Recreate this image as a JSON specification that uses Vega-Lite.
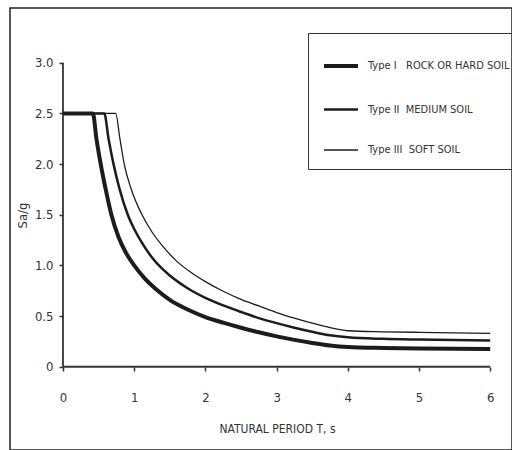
{
  "$schema": "https://vega.github.io/schema/vega-lite/v6.json",
  "width": 502,
  "height": 442,
  "autosize": {"type": "none"},
  "padding": {"left": 10, "top": 8, "right": 0, "bottom": 0},
  "background": "white",
  "config": {
    "view": {"stroke": "#222", "strokeWidth": 1.5},
    "font": "DejaVu Sans Condensed, Liberation Sans Narrow, Liberation Sans, sans-serif"
  },
  "datasets": {
    "axes": [
      {"t": 0, "s": 0, "t2": 6, "s2": 0},
      {"t": 0, "s": 0, "t2": 0, "s2": 3}
    ],
    "curves": [
      {"soil": "Type I", "period": 0, "sa": 2.5},
      {"soil": "Type I", "period": 0.42, "sa": 2.5},
      {"soil": "Type I", "period": 0.47, "sa": 2.25},
      {"soil": "Type I", "period": 0.53, "sa": 2.0},
      {"soil": "Type I", "period": 0.6, "sa": 1.75},
      {"soil": "Type I", "period": 0.68, "sa": 1.5},
      {"soil": "Type I", "period": 0.78, "sa": 1.28},
      {"soil": "Type I", "period": 0.88, "sa": 1.13},
      {"soil": "Type I", "period": 1.0, "sa": 1.0},
      {"soil": "Type I", "period": 1.15, "sa": 0.87},
      {"soil": "Type I", "period": 1.3, "sa": 0.77},
      {"soil": "Type I", "period": 1.5, "sa": 0.66},
      {"soil": "Type I", "period": 1.75, "sa": 0.565},
      {"soil": "Type I", "period": 2.0, "sa": 0.49},
      {"soil": "Type I", "period": 2.25, "sa": 0.435},
      {"soil": "Type I", "period": 2.5, "sa": 0.385},
      {"soil": "Type I", "period": 2.75, "sa": 0.34},
      {"soil": "Type I", "period": 3.0, "sa": 0.3},
      {"soil": "Type I", "period": 3.25, "sa": 0.265},
      {"soil": "Type I", "period": 3.5, "sa": 0.235},
      {"soil": "Type I", "period": 3.75, "sa": 0.21},
      {"soil": "Type I", "period": 4.0, "sa": 0.195},
      {"soil": "Type I", "period": 4.5, "sa": 0.185},
      {"soil": "Type I", "period": 5.0, "sa": 0.18},
      {"soil": "Type I", "period": 6.0, "sa": 0.175},
      {"soil": "Type II", "period": 0, "sa": 2.5},
      {"soil": "Type II", "period": 0.58, "sa": 2.5},
      {"soil": "Type II", "period": 0.64, "sa": 2.25},
      {"soil": "Type II", "period": 0.71, "sa": 2.0},
      {"soil": "Type II", "period": 0.8, "sa": 1.74},
      {"soil": "Type II", "period": 0.91, "sa": 1.5},
      {"soil": "Type II", "period": 1.0, "sa": 1.36},
      {"soil": "Type II", "period": 1.13, "sa": 1.2},
      {"soil": "Type II", "period": 1.27, "sa": 1.06},
      {"soil": "Type II", "period": 1.5, "sa": 0.9},
      {"soil": "Type II", "period": 1.75, "sa": 0.775},
      {"soil": "Type II", "period": 2.0, "sa": 0.68},
      {"soil": "Type II", "period": 2.25, "sa": 0.605},
      {"soil": "Type II", "period": 2.5, "sa": 0.54},
      {"soil": "Type II", "period": 2.75, "sa": 0.48},
      {"soil": "Type II", "period": 3.0, "sa": 0.43},
      {"soil": "Type II", "period": 3.25, "sa": 0.385},
      {"soil": "Type II", "period": 3.5, "sa": 0.345},
      {"soil": "Type II", "period": 3.75, "sa": 0.31},
      {"soil": "Type II", "period": 4.0, "sa": 0.29},
      {"soil": "Type II", "period": 4.5, "sa": 0.275},
      {"soil": "Type II", "period": 5.0, "sa": 0.268},
      {"soil": "Type II", "period": 6.0, "sa": 0.26},
      {"soil": "Type III", "period": 0, "sa": 2.5},
      {"soil": "Type III", "period": 0.74, "sa": 2.5},
      {"soil": "Type III", "period": 0.8, "sa": 2.25},
      {"soil": "Type III", "period": 0.86, "sa": 2.0},
      {"soil": "Type III", "period": 0.96, "sa": 1.75},
      {"soil": "Type III", "period": 1.11, "sa": 1.5},
      {"soil": "Type III", "period": 1.25, "sa": 1.33},
      {"soil": "Type III", "period": 1.4, "sa": 1.19},
      {"soil": "Type III", "period": 1.6, "sa": 1.04},
      {"soil": "Type III", "period": 1.8, "sa": 0.93},
      {"soil": "Type III", "period": 2.0, "sa": 0.84},
      {"soil": "Type III", "period": 2.25, "sa": 0.745},
      {"soil": "Type III", "period": 2.5, "sa": 0.665},
      {"soil": "Type III", "period": 2.75, "sa": 0.6},
      {"soil": "Type III", "period": 3.0, "sa": 0.535},
      {"soil": "Type III", "period": 3.25, "sa": 0.48},
      {"soil": "Type III", "period": 3.5, "sa": 0.43},
      {"soil": "Type III", "period": 3.75, "sa": 0.385},
      {"soil": "Type III", "period": 4.0, "sa": 0.355},
      {"soil": "Type III", "period": 4.5, "sa": 0.345},
      {"soil": "Type III", "period": 5.0, "sa": 0.34},
      {"soil": "Type III", "period": 6.0, "sa": 0.33}
    ]
  },
  "layer": [
    {
      "data": {"name": "axes"},
      "mark": {"type": "rule", "color": "#333", "strokeWidth": 1.8},
      "encoding": {
        "x": {
          "field": "t", "type": "quantitative",
          "scale": {"domain": [-0.744, 6.306], "nice": false, "zero": false},
          "axis": {
            "values": [0, 1, 2, 3, 4, 5, 6],
            "format": "d",
            "offset": -83,
            "domain": false, "grid": false,
            "tickSize": 4, "tickWidth": 1.5, "tickColor": "#333",
            "labelPadding": 20, "labelFontSize": 13, "labelColor": "#333",
            "title": "NATURAL PERIOD T, s",
            "titleFontWeight": "normal", "titleFontSize": 12, "titleColor": "#333",
            "titleX": 267, "titleY": 61, "titleBaseline": "middle", "titleAlign": "center"
          }
        },
        "y": {
          "field": "s", "type": "quantitative",
          "scale": {"domain": [-0.822, 3.541], "nice": false, "zero": false},
          "axis": {
            "values": [0, 0.5, 1, 1.5, 2, 2.5, 3],
            "labelExpr": "datum.value == 0 ? '0' : format(datum.value, '.1f')",
            "offset": -53,
            "domain": false, "grid": false,
            "tickSize": 4, "tickWidth": 1.5, "tickColor": "#333",
            "labelPadding": 6, "labelFontSize": 13, "labelColor": "#333",
            "title": "Sa/g",
            "titleFontWeight": "normal", "titleFontSize": 13, "titleColor": "#333",
            "titleX": -41, "titleY": 207, "titleBaseline": "middle", "titleAlign": "center"
          }
        },
        "x2": {"field": "t2"},
        "y2": {"field": "s2"}
      }
    },
    {
      "data": {"name": "curves"},
      "mark": {"type": "line", "interpolate": "monotone", "color": "#1c1c1c"},
      "encoding": {
        "x": {"field": "period", "type": "quantitative"},
        "y": {"field": "sa", "type": "quantitative"},
        "strokeWidth": {
          "field": "soil", "type": "nominal",
          "scale": {"type": "ordinal", "domain": ["Type I", "Type II", "Type III"], "range": [4, 2.5, 1.3]},
          "legend": {
            "title": null,
            "orient": "none",
            "legendX": 298,
            "legendY": 25,
            "symbolType": "stroke",
            "symbolSize": 1156,
            "symbolStrokeColor": "#1c1c1c",
            "labelFontSize": 11,
            "labelColor": "#333",
            "labelOffset": 8,
            "labelLimit": 300,
            "rowPadding": 17,
            "padding": 14,
            "strokeColor": "#333",
            "labelExpr": "datum.label == 'Type I' ? 'Type I\u00a0\u00a0 ROCK OR HARD SOIL' : datum.label == 'Type II' ? 'Type II\u00a0 MEDIUM SOIL' : 'Type III\u00a0 SOFT SOIL'"
          }
        }
      }
    }
  ]
}
